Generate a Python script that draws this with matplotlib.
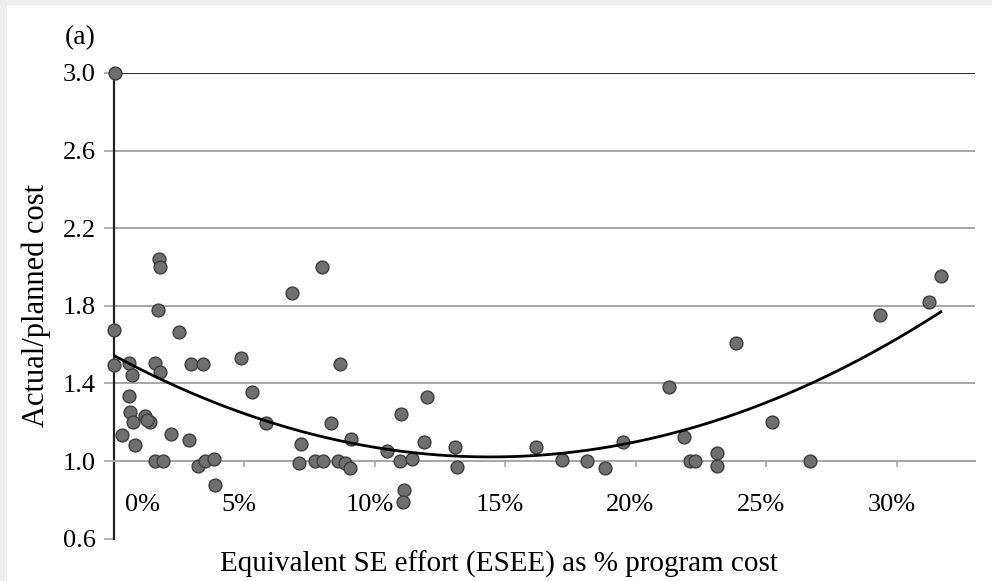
import numpy as np
import matplotlib
matplotlib.use("Agg")
import matplotlib.pyplot as plt
from matplotlib.patches import Rectangle

# ESEE as % of program cost vs actual/planned cost
esee_pct = [0.05, 1.75, 1.78, 1.69, 0.02, 2.50, 0.02, 0.60, 0.69, 1.59,
            1.78, 2.97, 3.42, 4.87, 5.29, 5.83, 0.60, 0.63, 0.76, 1.20,
            1.40, 1.27, 0.31, 0.82, 2.19, 2.90, 1.59, 1.91, 3.25, 3.50,
            3.85, 3.89,
            7.98, 6.83, 8.68, 12.0, 11.02, 8.34, 7.19, 9.10, 10.47, 11.88,
            13.07, 7.11, 7.72, 8.02, 8.59, 8.87, 9.04, 10.98, 11.43, 13.16,
            11.11, 11.07,
            21.27, 16.18, 19.52, 21.87, 17.18, 18.14, 18.84, 22.10, 22.29,
            23.12, 23.12,
            31.69, 31.24, 29.36, 23.83, 25.23, 26.68]
cost_ratio = [3.00, 2.04, 2.00, 1.78, 1.675, 1.667, 1.495, 1.507, 1.443, 1.504,
              1.46, 1.50, 1.50, 1.53, 1.354, 1.197, 1.335, 1.254, 1.20, 1.23,
              1.20, 1.21, 1.134, 1.08, 1.14, 1.108, 1.00, 1.00, 0.974, 1.00,
              1.01, 0.876,
              2.00, 1.864, 1.50, 1.33, 1.242, 1.197, 1.086, 1.113, 1.053, 1.096,
              1.07, 0.988, 1.00, 1.00, 1.00, 0.99, 0.962, 1.00, 1.009, 0.97,
              0.85, 0.79,
              1.383, 1.07, 1.10, 1.122, 1.005, 1.00, 0.966, 1.00, 1.00,
              1.04, 0.976,
              1.955, 1.82, 1.75, 1.61, 1.20, 1.00]

x_ticks = [0, 5, 10, 15, 20, 25, 30]
x_labels = ["0%", "5%", "10%", "15%", "20%", "25%", "30%"]
y_ticks = [0.6, 1.0, 1.4, 1.8, 2.2, 2.6, 3.0]

plt.rcParams['font.family'] = ['Liberation Serif', 'DejaVu Serif']

W, H = 992, 581
fig = plt.figure(figsize=(W / 100, H / 100), dpi=100)
fig.patch.set_facecolor('#efefef')
fig.patches.append(Rectangle((7 / W, 0), 1, 1 - 5 / H, transform=fig.transFigure,
                             facecolor='white', edgecolor='none', zorder=-10))

ax = fig.add_axes([113.6 / W, (H - 538.6) / H, (975 - 113.6) / W, (538.6 - 73) / H])
ax.set_facecolor('none')
ax.set_xlim(0, 33.0)
ax.set_ylim(0.6, 3.0)

for yv in y_ticks[2:-1]:
    ax.axhline(yv, color='#a6a6a6', lw=1.4, zorder=1)
ax.axhline(y_ticks[-1], color='#333333', lw=1.5, zorder=1)

ax.spines['top'].set_visible(False)
ax.spines['right'].set_visible(False)
ax.spines['left'].set_color('#222222')
ax.spines['left'].set_linewidth(1.6)
ax.spines['bottom'].set_position(('data', 1.0))
ax.spines['bottom'].set_color('#a6a6a6')
ax.spines['bottom'].set_linewidth(1.4)

ax.set_yticks(y_ticks)
ax.set_yticklabels([f"{v:.1f}" for v in y_ticks], fontsize=19)
ax.tick_params(axis='y', length=7, width=1.2, color='#a6a6a6', pad=6)
ax.set_xticks(x_ticks[1:])
ax.set_xticklabels([])
ax.tick_params(axis='x', length=4, width=1.2, color='#a6a6a6', direction='out')

for xv, lab in zip(x_ticks, x_labels):
    xpos = 1.1 if xv == 0 else xv - 0.2
    ax.text(xpos, 0.775, lab, fontsize=19, ha='center', va='center')

ax.scatter(esee_pct, cost_ratio, s=85, facecolor='#6f6f6f', edgecolor='#3d3d3d',
           linewidth=1.0, zorder=3, clip_on=False)

# quadratic trend line, as in the original
coef = np.polyfit(esee_pct, cost_ratio, 2)
xs = np.linspace(0, max(esee_pct), 200)
ax.plot(xs, np.polyval(coef, xs), color='black', lw=2.0, zorder=4)

ax.set_ylabel("Actual/planned cost", fontsize=22, labelpad=8)
fig.text(499 / W, 1 - 564 / H, "Equivalent SE effort (ESEE) as % program cost",
         fontsize=21, ha='center', va='center')
fig.text(80 / W, 1 - 38 / H, "(a)", fontsize=20, ha='center', va='center')

fig.savefig("out.png", dpi=100)
